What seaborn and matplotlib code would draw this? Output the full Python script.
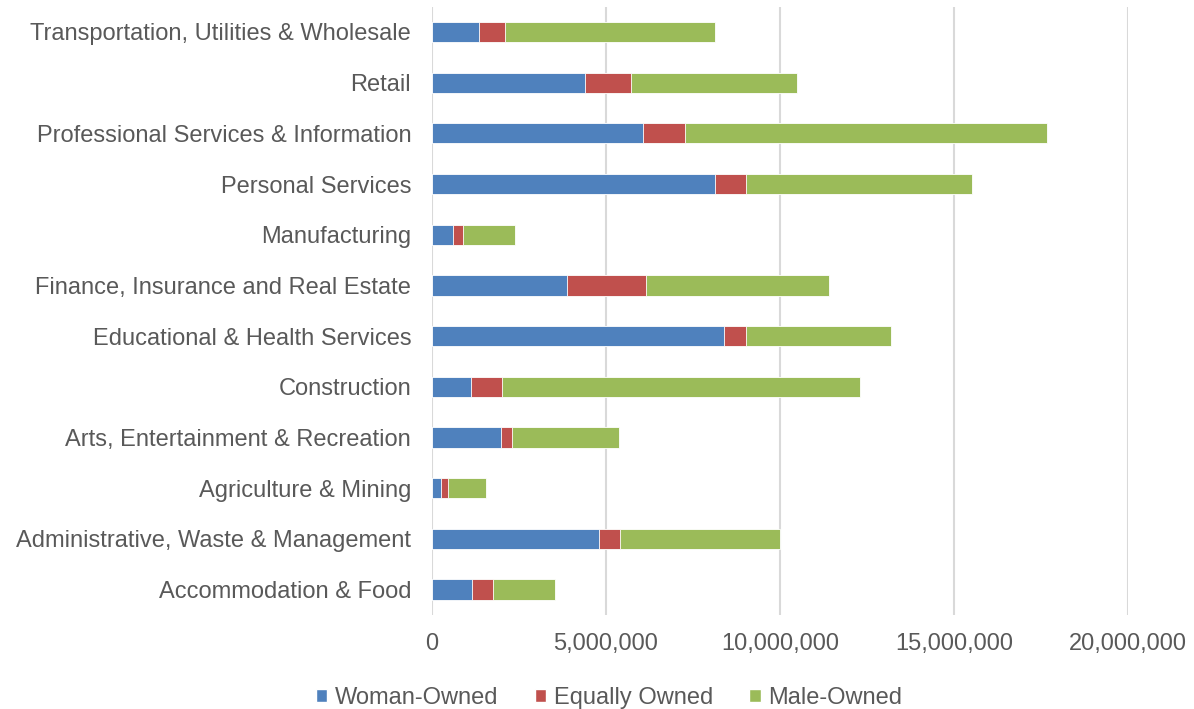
import matplotlib
matplotlib.use("Agg")
import matplotlib.pyplot as plt
import seaborn as sns
import numpy as np
import pandas as pd
from matplotlib.ticker import FuncFormatter
from matplotlib.patches import Patch

categories = [
    "Transportation, Utilities & Wholesale",
    "Retail",
    "Professional Services & Information",
    "Personal Services",
    "Manufacturing",
    "Finance, Insurance and Real Estate",
    "Educational & Health Services",
    "Construction",
    "Arts, Entertainment & Recreation",
    "Agriculture & Mining",
    "Administrative, Waste & Management",
    "Accommodation & Food",
]
woman_owned = [1360000, 4410000, 6070000, 8120000, 590000, 3890000, 8380000, 1130000, 1980000, 250000, 4790000, 1150000]
equally_owned = [730000, 1320000, 1210000, 910000, 300000, 2260000, 650000, 890000, 310000, 210000, 600000, 590000]
male_owned = [6050000, 4770000, 10390000, 6500000, 1490000, 5270000, 4170000, 10290000, 3080000, 1090000, 4600000, 1790000]
series_names = ["Woman-Owned", "Equally Owned", "Male-Owned"]
colors = ["#4F81BD", "#C0504D", "#9BBB59"]

sns.set_theme(style="white")
plt.rcParams["font.family"] = ["Liberation Sans", "DejaVu Sans"]
text_color = "#595959"

df = pd.DataFrame({
    "category": categories,
    "w": woman_owned,
    "e": equally_owned,
    "m": male_owned,
})
df["cum_w"] = df["w"]
df["cum_e"] = df["w"] + df["e"]
df["cum_m"] = df["w"] + df["e"] + df["m"]

fig = plt.figure(figsize=(11.94, 7.09), dpi=100)
ax = fig.add_axes([0.3618, 0.1326, 0.5829, 0.8581])

for col, c in [("cum_m", colors[2]), ("cum_e", colors[1]), ("cum_w", colors[0])]:
    sns.barplot(data=df, y="category", x=col, orient="h", color=c, width=0.4,
                saturation=1, ax=ax, edgecolor="white", linewidth=0.6)

ax.set_xlim(0, 20000000)
ax.set_xticks([0, 5000000, 10000000, 15000000, 20000000])
ax.xaxis.set_major_formatter(FuncFormatter(lambda v, p: f"{int(v):,}"))
ax.grid(axis="x", color="#D9D9D9", linewidth=1.5)
ax.set_axisbelow(True)
for s in ax.spines.values():
    s.set_visible(False)
ax.set_xlabel("")
ax.set_ylabel("")
ax.tick_params(axis="both", length=0, colors=text_color, labelsize=17)
ax.tick_params(axis="y", pad=15)
ax.tick_params(axis="x", pad=13)

handles = [Patch(facecolor=c, label=n) for c, n in zip(colors, series_names)]
fig.legend(handles=handles, loc="center", bbox_to_anchor=(0.51, 0.016), ncol=3,
           frameon=False, fontsize=17, labelcolor=text_color,
           handlelength=0.5, handleheight=0.5, handletextpad=0.3, columnspacing=1.55)

fig.savefig("out.png", dpi=100)
